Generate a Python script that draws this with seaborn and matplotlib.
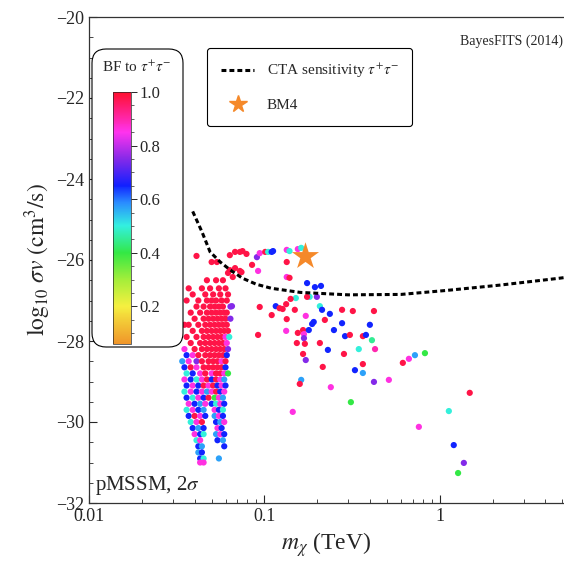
import numpy as np
import pandas as pd
import matplotlib
matplotlib.use("Agg")
import matplotlib.pyplot as plt
import seaborn as sns
from matplotlib.colors import LinearSegmentedColormap, Normalize
from matplotlib.lines import Line2D
from matplotlib.patches import FancyBboxPatch
from matplotlib.ticker import MultipleLocator, FixedLocator, FuncFormatter

# colour codes for the branching fraction
r, m, p, b, a, c, g = 0.98, 0.86, 0.75, 0.65, 0.57, 0.50, 0.40

# dense low-mass cluster (row by row, from top to bottom)
core_rows = [
    (-26.50, [0.047, 0.053, 0.058], [r, r, r]),
    (-26.70, [0.037, 0.044, 0.049, 0.055, 0.060], [r, r, r, r, r]),
    (-26.85, [0.039, 0.046, 0.051, 0.056, 0.062], [r, r, r, r, r]),
    (-27.00, [0.036, 0.042, 0.047, 0.050, 0.053, 0.057, 0.061], [r, r, r, r, r, r, r]),
    (-27.15, [0.041, 0.045, 0.049, 0.052, 0.055, 0.058, 0.064], [r, r, r, r, r, r, p]),
    (-27.30, [0.038, 0.043, 0.047, 0.050, 0.053, 0.056, 0.059, 0.061], [r, r, r, r, r, r, r, r]),
    (-27.45, [0.040, 0.045, 0.048, 0.051, 0.054, 0.057, 0.060, 0.064], [r, r, r, r, r, r, r, p]),
    (-27.60, [0.035, 0.037, 0.042, 0.046, 0.049, 0.052, 0.055, 0.058, 0.061], [r, r, r, r, r, r, r, r, r]),
    (-27.75, [0.039, 0.044, 0.047, 0.050, 0.053, 0.056, 0.059, 0.062], [r, r, r, r, r, r, r, r]),
    (-27.90, [0.036, 0.041, 0.045, 0.048, 0.051, 0.054, 0.057, 0.060, 0.063], [r, r, r, r, r, r, r, m, c]),
    (-28.05, [0.038, 0.043, 0.046, 0.049, 0.052, 0.055, 0.058, 0.061], [r, r, r, r, r, r, r, m]),
    (-28.20, [0.035, 0.040, 0.044, 0.047, 0.050, 0.053, 0.056, 0.059, 0.062], [m, r, r, r, r, r, r, r, p]),
    (-28.35, [0.036, 0.039, 0.042, 0.046, 0.049, 0.052, 0.055, 0.058, 0.061], [b, m, r, r, r, r, r, r, b]),
    (-28.50, [0.034, 0.037, 0.041, 0.044, 0.048, 0.051, 0.054, 0.057, 0.060], [a, m, p, r, r, r, r, m, r]),
    (-28.65, [0.035, 0.038, 0.041, 0.045, 0.048, 0.051, 0.054, 0.057, 0.060], [b, r, m, r, r, r, r, r, b]),
    (-28.80, [0.036, 0.039, 0.043, 0.046, 0.050, 0.053, 0.056, 0.059, 0.062], [c, b, m, r, m, r, r, m, g]),
    (-28.95, [0.035, 0.038, 0.041, 0.044, 0.047, 0.050, 0.053, 0.056, 0.059], [m, b, c, m, r, b, r, m, a]),
    (-29.10, [0.036, 0.039, 0.042, 0.045, 0.048, 0.051, 0.054, 0.057, 0.060], [b, m, b, r, m, r, b, m, b]),
    (-29.25, [0.035, 0.038, 0.041, 0.044, 0.047, 0.050, 0.053, 0.056, 0.059], [c, m, b, m, a, m, r, b, m]),
    (-29.40, [0.036, 0.039, 0.042, 0.045, 0.048, 0.052, 0.055, 0.058], [b, c, m, b, r, g, m, a]),
    (-29.55, [0.037, 0.040, 0.043, 0.046, 0.050, 0.053, 0.056, 0.059], [m, b, a, m, b, c, m, b]),
    (-29.70, [0.036, 0.039, 0.042, 0.045, 0.052, 0.055, 0.058], [c, m, b, a, m, b, c]),
    (-29.85, [0.037, 0.040, 0.043, 0.046, 0.052, 0.055, 0.058], [b, r, m, b, a, m, b]),
    (-30.00, [0.038, 0.041, 0.044, 0.053, 0.056, 0.059], [c, m, r, b, a, m]),
    (-30.15, [0.039, 0.042, 0.045, 0.054, 0.057], [b, a, b, m, b]),
    (-30.30, [0.040, 0.043, 0.045, 0.053, 0.056, 0.059], [m, b, c, a, m, b]),
    (-30.45, [0.041, 0.043, 0.054, 0.058], [c, m, b, a]),
    (-30.60, [0.042, 0.044, 0.059], [b, a, b]),
    (-30.75, [0.042, 0.044], [a, b]),
    (-30.90, [0.043, 0.045, 0.055], [b, c, a]),
    (-31.00, [0.043, 0.045], [m, m]),
]

# scattered points at higher masses
tail_mass = [0.0635, 0.068, 0.0725, 0.075, 0.079, 0.050, 0.0536, 0.0635, 0.068, 0.0725,
             0.062, 0.066, 0.085, 0.074, 0.041, 0.0906, 0.094, 0.101, 0.105, 0.110,
             0.112, 0.092, 0.134, 0.139, 0.155, 0.162, 0.134, 0.134, 0.139,
             0.175, 0.194, 0.210, 0.181, 0.175, 0.199, 0.116, 0.122, 0.094, 0.151,
             0.141, 0.207, 0.0653, 0.110, 0.127, 0.133, 0.092,
             0.149, 0.213, 0.236, 0.277, 0.319, 0.421, 0.134, 0.172, 0.221, 0.191,
             0.187, 0.277, 0.399, 0.133, 0.155, 0.166, 0.168, 0.168, 0.179, 0.249,
             0.288, 0.307, 0.364, 0.379, 0.410, 0.153, 0.170, 0.207, 0.230, 0.284,
             0.345, 0.427, 0.166, 0.172, 0.215, 0.328, 0.364, 0.364, 0.162, 0.159,
             0.239, 0.421, 0.512, 0.615, 0.666, 0.721, 0.822, 0.311, 0.145, 1.48,
             1.125, 0.759, 1.20, 1.37, 1.27]
tail_sigv = [-25.88, -25.80, -25.80, -25.78, -25.85, -26.05, -26.05, -26.25, -26.20, -26.27,
             -26.32, -26.42, -26.12, -26.30, -25.90, -25.93, -25.83, -25.80, -25.80, -25.80,
             -25.78, -26.27, -25.75, -25.78, -25.73, -25.70, -26.05, -26.42, -26.44,
             -26.57, -26.67, -26.64, -26.91, -26.91, -26.91, -27.14, -27.19, -27.16, -26.94,
             -26.96, -27.14, -27.14, -27.36, -27.21, -27.09, -27.85,
             -27.23, -27.23, -27.33, -27.23, -27.26, -27.26, -27.46, -27.38, -27.48, -27.53,
             -27.58, -27.56, -27.60, -27.75, -27.80, -27.73, -27.83, -27.93, -27.73, -27.73,
             -27.88, -27.85, -27.88, -27.85, -27.98, -28.05, -28.07, -28.05, -28.22, -28.32,
             -28.20, -28.20, -28.32, -28.47, -28.64, -28.72, -28.79, -28.57, -28.96, -29.06,
             -29.14, -29.01, -28.96, -28.54, -28.44, -28.35, -28.30, -29.51, -29.75, -29.28,
             -29.73, -30.12, -30.57, -31.01, -31.26]
tail_bf = [r, r, r, r, r, r, r, r, r, r,
           r, r, r, r, r, p, m, r, c, b,
           b, m, m, c, m, c, r, m, r,
           b, b, b, c, r, p, b, r, r, c,
           r, c, p, r, r, r, r,
           r, b, b, r, r, r, r, m, r, b,
           b, b, b, m, r, r, m, p, b, b,
           b, r, r, b, 0.45, r, r, r, b, r,
           c, 0.9, r, p, r, b, a, r, a, r,
           m, p, m, r, m, a, g, g, m, r,
           c, m, b, p, g]

# CTA sensitivity curve (tau tau)
cta_mass = [0.039, 0.044, 0.049, 0.056, 0.064, 0.075, 0.090, 0.110, 0.160, 0.30, 0.60, 1.1, 2.2, 4.8, 5.2]
cta_sigv = [-24.80, -25.30, -25.80, -26.05, -26.25, -26.45, -26.60, -26.70, -26.80, -26.86,
            -26.85, -26.75, -26.62, -26.45, -26.43]

bm4_mass = [0.170]
bm4_sigv = [-25.90]

cbar_ticks = [0.2, 0.4, 0.6, 0.8, 1.0]

# assemble the scan table
core_mass, core_sigv, core_bf = [], [], []
for y, xs, bfs in core_rows:
    core_mass += xs
    core_sigv += [y] * len(xs)
    core_bf += bfs

df = pd.DataFrame({
    "mass": core_mass + tail_mass,
    "sigv": core_sigv + tail_sigv,
    "bf": core_bf + tail_bf,
})

sns.set_theme(style="white")
plt.rcParams["font.family"] = ["Liberation Serif", "DejaVu Serif"]
plt.rcParams["mathtext.fontset"] = "stix"

bf_cmap = LinearSegmentedColormap.from_list("bf", [
    (0.00, "#f0962a"), (0.15, "#f5f040"), (0.25, "#a8ee3a"), (0.36, "#33e844"),
    (0.47, "#33f0e0"), (0.56, "#2a8cff"), (0.63, "#1020ff"), (0.74, "#8a2ae8"),
    (0.84, "#ff33ee"), (1.00, "#ff1030")])
bf_norm = Normalize(vmin=0.06, vmax=1.0)

fig = plt.figure(figsize=(5.64, 5.63), dpi=100)
ax = fig.add_axes([89 / 564, 60 / 563, 1 - 89 / 564, 486 / 563])

sns.scatterplot(data=df, x="mass", y="sigv", hue="bf", palette=bf_cmap,
                hue_norm=bf_norm, s=20, linewidth=0, legend=False, ax=ax, zorder=3)
ax.plot(cta_mass, cta_sigv, color="black", lw=2.2, dashes=(1.6, 1.0), zorder=4)
ax.scatter(bm4_mass, bm4_sigv, marker="*", s=420, color="#f5892a", linewidth=0, zorder=5)

ax.set_xscale("log")
ax.set_xlim(0.01, 5.1)
ax.set_ylim(-32, -20)
ax.yaxis.set_major_locator(MultipleLocator(2))
ax.yaxis.set_minor_locator(MultipleLocator(0.5))
ax.yaxis.set_major_formatter(FuncFormatter(lambda v, pos: f"\u2212{abs(v):.0f}"))
ax.xaxis.set_major_locator(FixedLocator([0.01, 0.1, 1]))
ax.xaxis.set_major_formatter(FuncFormatter(lambda v, pos: f"{v:g}"))
ax.tick_params(axis="both", which="major", direction="in", length=6, width=0.8,
               labelsize=13, colors="0.15", left=True, bottom=True)
ax.tick_params(axis="both", which="minor", direction="in", length=3, width=0.6,
               left=True, bottom=True, colors="0.15")
for side in ["left", "bottom", "top"]:
    ax.spines[side].set_color("0.2")
    ax.spines[side].set_linewidth(0.9)
ax.spines["right"].set_visible(False)

ax.set_xlabel(r"$m_\chi$ (TeV)", fontsize=17, labelpad=4)
ax.set_ylabel(r"$\log_{10}\,\sigma v\ (\mathrm{cm}^3/\mathrm{s})$", fontsize=17, labelpad=2)

ax.text(0.013, 0.012, r"pMSSM, 2$\sigma$", transform=ax.transAxes, fontsize=15,
        ha="left", va="bottom")
fig.text(0.998, 0.927, "BayesFITS (2014)", fontsize=10, ha="right", va="center")

# legend box
handles = [Line2D([0], [0], color="black", lw=2.2, dashes=(1.6, 1.0)),
           Line2D([0], [0], marker="*", color="#f5892a", lw=0, markersize=13)]
ax.legend(handles, [r"CTA sensitivity $\tau^{+}\tau^{-}$", "BM4"], loc="upper left",
          bbox_to_anchor=(207 / 564, 1 - 48 / 563), bbox_transform=fig.transFigure,
          borderaxespad=0, fontsize=11, frameon=True, fancybox=True, edgecolor="black",
          framealpha=1, handlelength=2.2, labelspacing=1.2, borderpad=0.9)
ax.get_legend().get_frame().set_linewidth(0.8)

# colour bar inset with its rounded box
box = FancyBboxPatch((92 / 564, 1 - 347 / 563), 91 / 564, 298 / 563,
                     boxstyle="round,pad=0,rounding_size=0.025", transform=fig.transFigure,
                     facecolor="white", edgecolor="black", linewidth=0.8, zorder=6)
fig.patches.append(box)
fig.text(137 / 564, 1 - 67 / 563, r"BF to $\tau^{+}\tau^{-}$", fontsize=11,
         ha="center", va="center", zorder=7)
cax = fig.add_axes([113 / 564, 1 - 344 / 563, 18 / 564, 252 / 563])
cax.set_zorder(8)
sm = plt.cm.ScalarMappable(norm=bf_norm, cmap=bf_cmap)
cb = fig.colorbar(sm, cax=cax, ticks=cbar_ticks)
cb.ax.set_yticklabels([f"{t:.1f}" for t in cbar_ticks])
cb.ax.yaxis.set_minor_locator(MultipleLocator(0.05))
cb.ax.tick_params(which="major", labelsize=12, length=4, width=0.7, colors="0.15", pad=2)
cb.ax.tick_params(which="minor", length=2, width=0.5, colors="0.15")
cb.outline.set_linewidth(0.5)

fig.savefig("out.png", dpi=100)
